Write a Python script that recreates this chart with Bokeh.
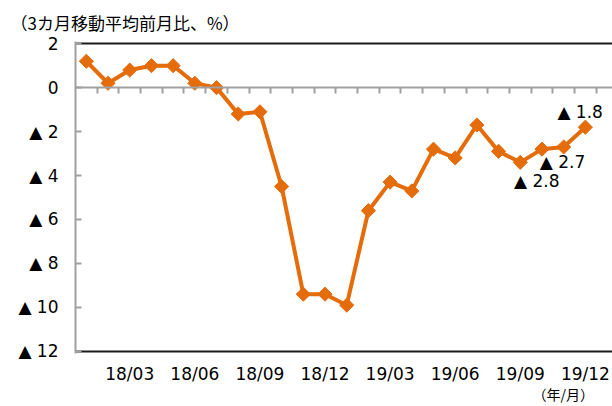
import numpy as np
from bokeh.plotting import figure
from bokeh.models import Range1d, FixedTicker, LinearAxis, Label, ColumnDataSource
from bokeh.embed import file_html
from bokeh.resources import INLINE

# ---- data ----
months = ["18/01", "18/02", "18/03", "18/04", "18/05", "18/06",
          "18/07", "18/08", "18/09", "18/10", "18/11", "18/12",
          "19/01", "19/02", "19/03", "19/04", "19/05", "19/06",
          "19/07", "19/08", "19/09", "19/10", "19/11", "19/12"]
values = [1.2, 0.2, 0.8, 1.0, 1.0, 0.2, 0.0, -1.2, -1.1, -4.5, -9.4, -9.4,
          -9.9, -5.6, -4.3, -4.7, -2.8, -3.2, -1.7, -2.9, -3.4, -2.8, -2.7, -1.8]
x_tick_labels = ["18/03", "18/06", "18/09", "18/12", "19/03", "19/06", "19/09", "19/12"]
y_ticks = [2, 0, -2, -4, -6, -8, -10, -12]
annotated_months = ["19/10", "19/11", "19/12"]
title_text = "（3カ月移動平均前月比、%）"
unit_text = "（年/月）"

# ---- styles ----
ORANGE = "#E46C0A"
GRAY = "#A0A0A0"
NUM_FONT = "DejaVu Sans"
JP_FONT = "Noto Sans CJK JP"
FS = "17px"


def fmt(v):
    if v < 0:
        return "▲ " + f"{abs(v):g}"
    return f"{v:g}"


xs = list(range(len(months)))
src = ColumnDataSource(dict(x=xs, y=values))

p = figure(width=612, height=406, output_backend="svg", toolbar_location=None,
           x_range=Range1d(-0.5, 24.25), y_range=Range1d(-12.1, 2.1),
           min_border_left=75, min_border_right=0, min_border_top=41,
           min_border_bottom=53)
p.outline_line_color = None
p.background_fill_color = "white"
p.border_fill_color = "white"

# title
p.title.text = title_text
p.title.align = "left"
p.title.offset = -65
p.title.text_font = JP_FONT
p.title.text_font_size = "17px"
p.title.text_font_style = "normal"
p.title.text_color = "black"
p.title.standoff = 13

# grid: black lines at top and bottom
p.xgrid.visible = False
p.ygrid.ticker = FixedTicker(ticks=[2, -12])
p.ygrid.grid_line_color = "#1a1a1a"
p.ygrid.grid_line_width = 2

# left axis
p.yaxis.ticker = FixedTicker(ticks=y_ticks)
p.yaxis.major_label_overrides = {t: fmt(t) for t in y_ticks}
p.yaxis.axis_line_color = GRAY
p.yaxis.axis_line_width = 2
p.yaxis.major_tick_line_color = GRAY
p.yaxis.major_tick_line_width = 2
p.yaxis.major_tick_in = 6
p.yaxis.major_tick_out = 0
p.yaxis.minor_tick_line_color = None
p.yaxis.major_label_standoff = 17
p.yaxis.major_label_text_font = NUM_FONT
p.yaxis.major_label_text_font_size = FS
p.yaxis.major_label_text_color = "black"

# bottom label axis
p.xaxis.ticker = FixedTicker(ticks=[months.index(m) for m in x_tick_labels])
p.xaxis.major_label_overrides = {months.index(m): m for m in x_tick_labels}
p.xaxis.axis_line_color = None
p.xaxis.major_tick_line_color = None
p.xaxis.minor_tick_line_color = None
p.xaxis.major_label_standoff = 4
p.xaxis.major_label_text_font = NUM_FONT
p.xaxis.major_label_text_font_size = FS
p.xaxis.major_label_text_color = "black"

# unit axis below the labels
unit_pos = 21.98
unit_axis = LinearAxis(ticker=FixedTicker(ticks=[unit_pos]),
                       major_label_overrides={unit_pos: unit_text},
                       axis_line_color=None, major_tick_line_color=None,
                       minor_tick_line_color=None, major_label_standoff=-9,
                       major_label_text_font=JP_FONT,
                       major_label_text_font_size="14px",
                       major_label_text_color="black")
p.add_layout(unit_axis, "below")

# zero axis with month boundary ticks
zero_axis = LinearAxis(fixed_location=0,
                       ticker=FixedTicker(ticks=[i + 0.5 for i in xs]),
                       axis_line_color=GRAY, axis_line_width=2,
                       major_tick_line_color=GRAY, major_tick_line_width=2,
                       major_tick_in=0, major_tick_out=6,
                       minor_tick_line_color=None,
                       major_label_text_font_size="0px",
                       major_label_text_alpha=0)
p.add_layout(zero_axis, "below")

# series
p.line("x", "y", source=src, line_color=ORANGE, line_width=4)
p.scatter("x", "y", source=src, marker="square", angle=np.pi / 4, size=10,
          fill_color=ORANGE, line_color=ORANGE)

# annotations for last months
ann_offsets = {"19/10": (-28, -32), "19/11": (-24, -15), "19/12": (-28, 15)}
for m in annotated_months:
    i = months.index(m)
    dx, dy = ann_offsets[m]
    p.add_layout(Label(x=i, y=values[i], x_offset=dx, y_offset=dy,
                       text=fmt(values[i]), text_font=NUM_FONT,
                       text_font_size=FS, text_baseline="middle",
                       text_align="left", text_color="black"))

open("out.html", "w").write(file_html(p, INLINE))
